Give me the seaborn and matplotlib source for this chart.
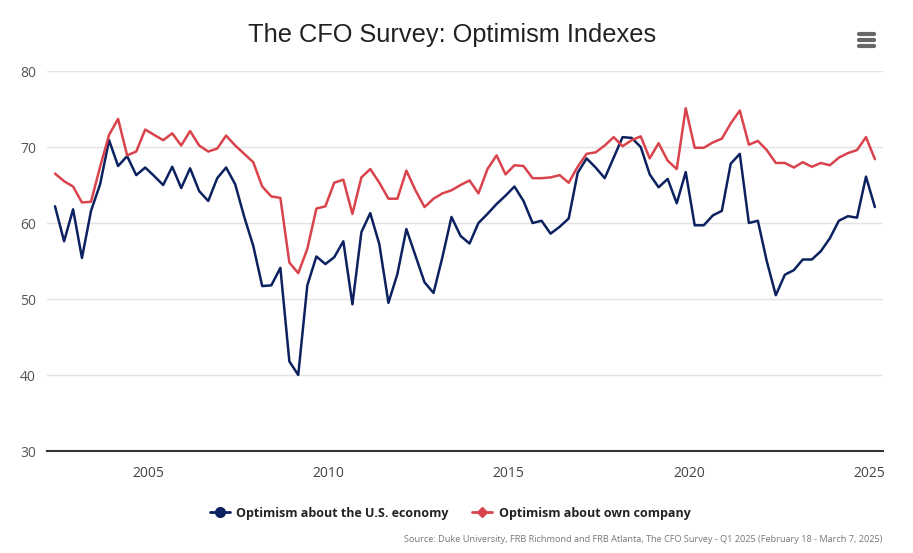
import pandas as pd
import matplotlib.pyplot as plt
import seaborn as sns
from matplotlib.lines import Line2D

# quarterly survey dates, Q2 2002 .. Q1 2025 (last month of each quarter)
dates = pd.date_range('2002-06-01', '2025-03-01', freq='3MS')

economy = [62.2, 57.6, 61.8, 55.4, 61.6, 65.1, 70.9, 67.5, 68.8, 66.3, 67.3, 66.2, 65.0, 67.4, 64.6, 67.2, 64.2,
           62.9, 65.9, 67.3, 65.1, 60.8, 57.0, 51.7, 51.8, 54.1, 41.8, 40.0, 51.8, 55.6, 54.6, 55.5, 57.6,
           49.3, 58.8, 61.3, 57.2, 49.5, 53.3, 59.2, 55.7, 52.2, 50.8, 55.5, 60.8, 58.3, 57.3, 60.0, 61.2,
           62.5, 63.6, 64.8, 62.9, 60.0, 60.3, 58.6, 59.5, 60.6, 66.6, 68.5, 67.3, 65.9, 68.6, 71.3, 71.2,
           70.0, 66.4, 64.7, 65.8, 62.6, 66.7, 59.7, 59.7, 61.0, 61.6, 67.8, 69.1, 60.0, 60.3, 55.0, 50.5, 53.2, 53.8,
           55.2, 55.2, 56.3, 58.0, 60.3, 60.9, 60.7, 66.1, 62.1]

company = [66.5, 65.5, 64.8, 62.7, 62.8, 67.4, 71.6, 73.7, 68.9, 69.4, 72.3, 71.6, 70.9, 71.8, 70.2, 72.1, 70.2,
           69.4, 69.8, 71.5, 70.2, 69.1, 68.0, 64.8, 63.5, 63.3, 54.8, 53.4, 56.6, 61.9, 62.2, 65.3, 65.7,
           61.2, 66.0, 67.1, 65.3, 63.2, 63.2, 66.9, 64.3, 62.1, 63.2, 63.9, 64.3, 65.0, 65.6, 63.9, 67.1,
           68.9, 66.4, 67.6, 67.5, 65.9, 65.9, 66.0, 66.3, 65.3, 67.4, 69.1, 69.3, 70.2, 71.3, 70.1, 70.9,
           71.4, 68.5, 70.5, 68.2, 67.1, 75.1, 69.9, 69.9, 70.6, 71.1, 73.1, 74.8, 70.3, 70.8, 69.6, 67.9, 67.9, 67.3,
           68.0, 67.4, 67.9, 67.6, 68.6, 69.2, 69.6, 71.3, 68.4]

series_names = ['Optimism about the U.S. economy', 'Optimism about own company']
colors = ['#0c2260', '#d9434b']
tick_years = [2005, 2010, 2015, 2020, 2025]
y_ticks = [30, 40, 50, 60, 70, 80]

df = pd.DataFrame({'date': dates, series_names[0]: economy, series_names[1]: company})
long_df = df.melt(id_vars='date', var_name='series', value_name='value')

sns.set_style('white')
plt.rcParams['font.family'] = ['Open Sans', 'DejaVu Sans']

fig = plt.figure(figsize=(9.13, 5.53), dpi=100)
ax = fig.add_axes([0.0515, 0.1844, 0.9155, 0.6872])

sns.lineplot(data=long_df, x='date', y='value', hue='series', palette=colors,
             hue_order=series_names, linewidth=1.8, ax=ax, legend=False)

pad = pd.Timedelta(days=81)
ax.set_xlim(dates[0] - pad, dates[-1] + pad)
ax.set_ylim(30, 80)
ax.set_yticks(y_ticks)
ax.set_xticks([pd.Timestamp(f'{y}-01-01') for y in tick_years])
ax.set_xticklabels([str(y) for y in tick_years])
ax.set_xlabel('')
ax.set_ylabel('')

ax.grid(axis='y', color='#e3e3e3', linewidth=1)
ax.grid(axis='x', visible=False)
for s in ['top', 'right', 'left']:
    ax.spines[s].set_visible(False)
ax.spines['bottom'].set_color('#333333')
ax.spines['bottom'].set_linewidth(1.5)
ax.tick_params(axis='x', length=7, width=1, color='#333333', labelsize=10, labelcolor='#444444', pad=4)
ax.tick_params(axis='y', length=0, labelsize=10, labelcolor='#555555', pad=8)

fig.text(0.495, 0.937, 'The CFO Survey: Optimism Indexes', ha='center', va='center',
         fontsize=18.3, color='#222222', family='Liberation Sans')

# hamburger menu icon
for yy in [0.938, 0.927, 0.916]:
    fig.add_artist(Line2D([0.941, 0.957], [yy, yy], transform=fig.transFigure,
                          color='#666666', linewidth=3, solid_capstyle='round'))

handles = [Line2D([], [], color=colors[0], marker='o', markersize=7, linewidth=2),
           Line2D([], [], color=colors[1], marker='D', markersize=5.5, linewidth=2)]
leg = fig.legend(handles, series_names, loc='center', bbox_to_anchor=(0.493, 0.072), ncol=2,
                 frameon=False, handlelength=1.6, columnspacing=1.9, handletextpad=0.5,
                 prop={'family': 'Open Sans', 'weight': 'bold', 'size': 9})
for t in leg.get_texts():
    t.set_color('#222222')

fig.text(0.966, 0.024, 'Source: Duke University, FRB Richmond and FRB Atlanta, The CFO Survey - Q1 2025 '
         '(February 18 - March 7, 2025)', ha='right', va='center', fontsize=6.55, color='#777777')

fig.savefig('out.png', dpi=100)
